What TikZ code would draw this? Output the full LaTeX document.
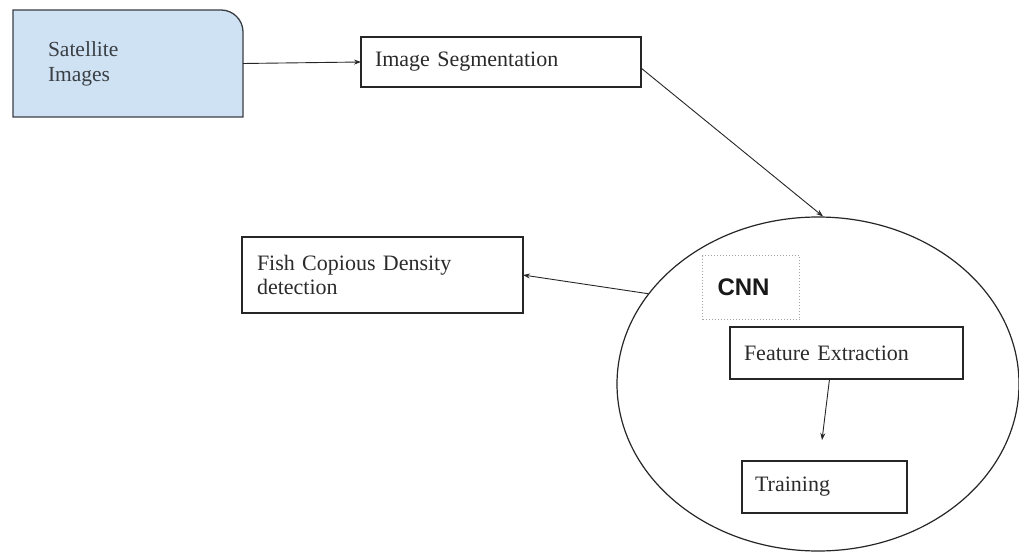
\documentclass[tikz,border=0pt]{standalone}
\usepackage{fontspec}
\setmainfont{Liberation Serif}
\newfontfamily\cnnfont{Liberation Sans}
\usetikzlibrary{shapes.geometric,arrows.meta,backgrounds}
\definecolor{satfill}{HTML}{CFE2F3}
\definecolor{txt}{HTML}{2B2B2B}
\definecolor{satline}{HTML}{3A3F44}
\begin{document}
\begin{tikzpicture}[x=1pt,y=-1pt,
  box/.style={draw=black!85, line width=1.6pt, rectangle, anchor=north west, align=left,
    inner ysep=0pt, outer sep=0pt, font=\fontsize{22}{24}\selectfont, text=txt},
  arr/.style={-{Stealth[length=7pt,width=5pt]}, line width=0.9pt, draw=black!85}]
\useasboundingbox (0,0) rectangle (1019,553);

% Satellite images (top-right corner rounded)
\node[anchor=north west, minimum width=230pt, minimum height=107pt, inner xsep=35pt,
  inner ysep=0pt, text width=160pt, align=left, outer sep=0pt,
  font=\fontsize{21.5}{25}\selectfont, text=satline] (sat) at (13,10) {Satellite\\Images};
\begin{scope}[on background layer]
\fill[white] (0,0) rectangle (1019,553);
\draw[satline, line width=1.3pt, fill=satfill] (sat.south west) -- (sat.north west)
  -- ([xshift=-22pt]sat.north east) arc[start angle=90, end angle=0, radius=22pt]
  -- (sat.south east) -- cycle;
\end{scope}

\node[box, minimum width=280pt, minimum height=50pt, inner xsep=14pt, text width=252pt] (seg) at (361,37) {Image Segmentation};

\node[box, minimum width=281pt, minimum height=76pt, inner xsep=15pt, text width=251pt] (fish) at (242,237) {Fish Copious Density\\detection};

\node[draw=black!85, line width=1.2pt, ellipse, minimum width=402pt, minimum height=334pt, inner sep=0pt] (ell) at (818,384) {};

\node[draw=gray!70, dotted, line width=1pt, anchor=north west, minimum width=97pt,
  minimum height=64pt, inner xsep=15pt, inner ysep=0pt, text width=67pt, align=left,
  font=\cnnfont\bfseries\fontsize{24}{28}\selectfont, text=black!90] (cnn) at (702,255) {CNN};

\node[box, minimum width=233pt, minimum height=52pt, inner xsep=14pt, text width=205pt] (feat) at (730,327) {Feature Extraction};

\node[box, minimum width=165pt, minimum height=52pt, inner xsep=13pt, text width=139pt] (train) at (742,461) {Training};

\draw[arr] (sat.east) -- (seg.west);
\draw[arr] ([yshift=-6pt]seg.east) -- ([xshift=5pt]ell.north);
\draw[arr] (ell.152) -- (fish.east);
\coordinate (fe) at (822,440);
\draw[arr] ([xshift=-17pt]feat.south) -- (fe);
\end{tikzpicture}
\end{document}
